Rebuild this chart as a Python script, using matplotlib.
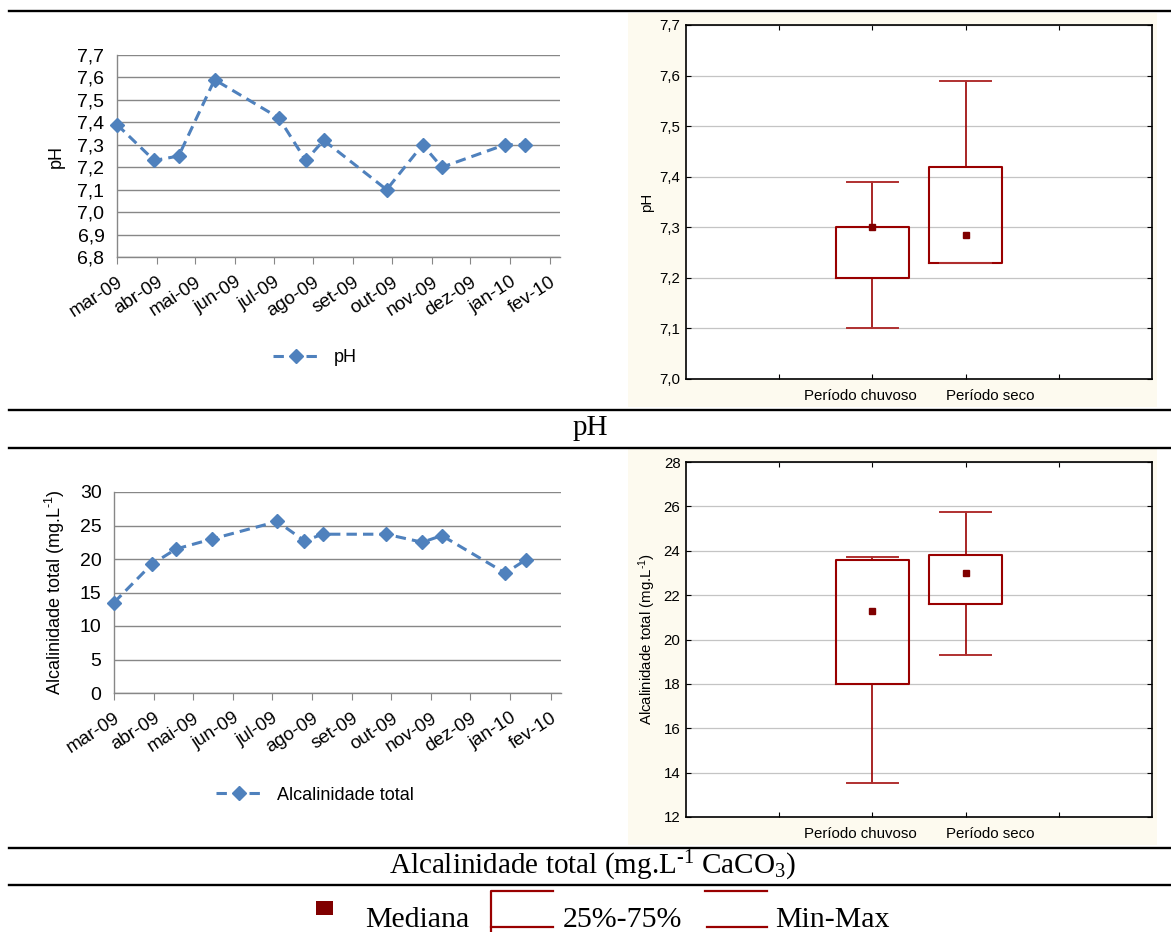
"""pH and total alkalinity: monthly series (left) and seasonal box plots (right)."""

import matplotlib as mpl

mpl.use("Agg")
import matplotlib.pyplot as plt
import numpy as np
import pandas as pd
from matplotlib.lines import Line2D
from matplotlib.patches import Rectangle
from matplotlib.ticker import FuncFormatter, MultipleLocator

W, H = 1171, 932

# sampling dates (Mar 2009 - Jan 2010)
sample_dates = np.array(
    [
        "2009-03-01", "2009-03-30", "2009-04-18", "2009-05-16",
        "2009-07-05", "2009-07-26", "2009-08-09", "2009-09-27",
        "2009-10-25", "2009-11-09", "2009-12-28", "2010-01-13",
    ],
    dtype="datetime64[D]",
)
ph = [7.39, 7.23, 7.25, 7.59, 7.42, 7.23, 7.32, 7.10, 7.30, 7.20, 7.30, 7.30]
alk = [13.5, 19.2, 21.5, 23.0, 25.6, 22.7, 23.7, 23.7, 22.5, 23.5, 17.9, 19.9]

month_labels = ["mar-09", "abr-09", "mai-09", "jun-09", "jul-09", "ago-09",
                "set-09", "out-09", "nov-09", "dez-09", "jan-10", "fev-10"]

periods = ["Período chuvoso", "Período seco"]
# box summaries per period: min, q1, median, q3, max
ph_min = [7.10, 7.23]
ph_q1 = [7.20, 7.23]
ph_med = [7.30, 7.285]
ph_q3 = [7.30, 7.42]
ph_max = [7.39, 7.59]

alk_min = [13.55, 19.3]
alk_q1 = [18.0, 21.6]
alk_med = [21.3, 23.0]
alk_q3 = [23.6, 23.8]
alk_max = [23.7, 25.75]

BLUE = "#4F81BD"
RED = "#990000"
DARKRED = "#800000"
CREAM = "#FDFAEF"
SANS = "Liberation Sans"
SERIF = "Liberation Serif"
UNIT = "(mg.L$\\mathregular{^{\u20101}}$)"


def rect(l, t, r, b):
    return [l / W, 1 - b / H, (r - l) / W, (b - t) / H]


def comma(fmt):
    return FuncFormatter(lambda v, _: format(v, fmt).replace(".", ","))


def line_panel(ax, values, ylim, step, fmt, ylabel, label):
    ax.plot(sample_dates, values, ls=(0, (3.4, 2.0)), lw=2.2, color=BLUE,
            marker="D", ms=7, label=label, clip_on=False, zorder=3)
    ticks = pd.date_range("2009-03-01", periods=12, freq="MS")
    ax.set_xticks(ticks)
    ax.set_xticklabels(month_labels, rotation=33, ha="right",
                       rotation_mode="anchor", fontsize=13.5, family=SANS)
    ax.set_xlim(np.datetime64("2009-03-01"), np.datetime64("2010-02-09"))
    ax.set_ylim(*ylim)
    ax.yaxis.set_major_locator(MultipleLocator(step))
    ax.yaxis.set_major_formatter(comma(fmt))
    ax.grid(axis="y", color="#878787", lw=1.0)
    ax.set_axisbelow(True)
    for s in ("top", "right"):
        ax.spines[s].set_visible(False)
    for s in ("left", "bottom"):
        ax.spines[s].set_color("#878787")
        ax.spines[s].set_linewidth(1.0)
    ax.tick_params(axis="x", length=5, color="#878787", pad=7)
    ax.tick_params(axis="y", length=0, pad=9, labelsize=14)
    for t in ax.get_yticklabels():
        t.set_family(SANS)
    ax.set_ylabel(ylabel, fontsize=13, family=SANS, labelpad=9)


def box_panel(ax, lo, q1, med, q3, hi, ylim, step, fmt, ylabel):
    stats = [
        {"whislo": a, "q1": b, "med": c, "q3": d, "whishi": e, "fliers": []}
        for a, b, c, d, e in zip(lo, q1, med, q3, hi)
    ]
    pos = [2, 3]
    ax.bxp(stats, positions=pos, widths=0.79, capwidths=0.55,
           showfliers=False, manage_ticks=False,
           boxprops=dict(color=RED, lw=1.5),
           whiskerprops=dict(color=RED, lw=1.2),
           capprops=dict(color="#B03030", lw=1.4),
           medianprops=dict(lw=0))
    ax.plot(pos, med, ls="none", marker="s", ms=4.5, color=DARKRED, zorder=4)
    ax.set_xlim(0, 5)
    ax.set_xticks([1, 2, 3, 4], [])
    # category names sit a little apart from their ticks
    for p, name, dx in zip(pos, periods, (-12, 25)):
        ax.annotate(name, xy=(p, 0), xycoords=("data", "axes fraction"),
                    xytext=(dx, -17), textcoords="offset pixels",
                    ha="center", va="center", family=SANS, size=10.8)
    ax.set_ylim(*ylim)
    ax.yaxis.set_major_locator(MultipleLocator(step))
    ax.yaxis.set_major_formatter(comma(fmt))
    for t in ax.get_yticklabels():
        t.set_family(SANS)
    ax.grid(axis="y", color="#C4C4C4", lw=0.9)
    ax.set_axisbelow(True)
    ax.tick_params(direction="in", top=True, right=True, length=3.5,
                   labelsize=10.8, pad=4)
    for s in ax.spines.values():
        s.set_linewidth(1.2)
    ax.set_ylabel(ylabel, fontsize=10.8, family=SANS, labelpad=4)


fig = plt.figure(figsize=(W / 100, H / 100), dpi=100)

# cream backdrop behind the box plots
for top, bot in ((13, 407), (449, 845)):
    fig.add_artist(Rectangle((628 / W, 1 - bot / H), (1157 - 628) / W,
                             (bot - top) / H, transform=fig.transFigure,
                             fc=CREAM, ec="none", zorder=-1))

ax1 = fig.add_axes(rect(117, 55, 560, 257))
line_panel(ax1, ph, (6.8, 7.7), 0.1, ".1f", "pH", "pH")
ax1.legend(loc="center", bbox_to_anchor=(315 / W, 1 - 358 / H),
           bbox_transform=fig.transFigure, frameon=False, handlelength=2.6,
           prop=dict(family=SANS, size=13))

ax2 = fig.add_axes(rect(686, 25, 1152, 379))
box_panel(ax2, ph_min, ph_q1, ph_med, ph_q3, ph_max,
          (7.0, 7.7), 0.1, ".1f", "pH")

ax3 = fig.add_axes(rect(114, 492, 561, 693))
line_panel(ax3, alk, (0, 30), 5, ".0f",
           "Alcalinidade total " + UNIT, "Alcalinidade total")
ax3.legend(loc="center", bbox_to_anchor=(315 / W, 1 - 795 / H),
           bbox_transform=fig.transFigure, frameon=False, handlelength=2.6,
           prop=dict(family=SANS, size=13))

ax4 = fig.add_axes(rect(686, 462, 1152, 817))
box_panel(ax4, alk_min, alk_q1, alk_med, alk_q3, alk_max,
          (12, 28), 2, ".0f", "Alcalinidade total " + UNIT)

# table rules
for y in (11, 410, 448, 848, 885):
    fig.add_artist(Line2D([9 / W, 1], [1 - y / H] * 2, color="black", lw=1.7,
                          transform=fig.transFigure))

fig.text(590 / W, 1 - 428 / H, "pH", ha="center", va="center",
         family=SERIF, size=21)
fig.text(592 / W, 1 - 866 / H,
         "Alcalinidade total (mg.L$\\mathregular{^{\u20101}}$ CaCO$\\mathregular{_3}$)",
         ha="center", va="center", family=SERIF, size=21)

# shared legend for the box plots
fig.add_artist(Rectangle((316 / W, 1 - 915 / H), 17 / W, 14 / H,
                         transform=fig.transFigure, fc=DARKRED, ec="none"))
fig.text(365 / W, 1 - 927 / H, "Mediana", va="baseline", family=SERIF, size=21.5)
fig.add_artist(Line2D(np.array([553, 491, 491]) / W, 1 - np.array([891, 891, 935]) / H,
                      color=RED, lw=1.6, transform=fig.transFigure))
fig.add_artist(Line2D(np.array([491, 553]) / W, [1 - 927 / H] * 2,
                      color=RED, lw=1.6, transform=fig.transFigure))
fig.text(563 / W, 1 - 927 / H, "25%-75%", va="baseline", family=SERIF, size=21.5)
fig.add_artist(Line2D(np.array([705, 767]) / W, [1 - 891 / H] * 2,
                      color=RED, lw=1.6, transform=fig.transFigure))
fig.add_artist(Line2D(np.array([707, 767]) / W, [1 - 927 / H] * 2,
                      color=RED, lw=1.6, transform=fig.transFigure))
fig.text(775 / W, 1 - 927 / H, "Min-Max", va="baseline", family=SERIF, size=21.5)

fig.savefig("out.png", dpi=100)
